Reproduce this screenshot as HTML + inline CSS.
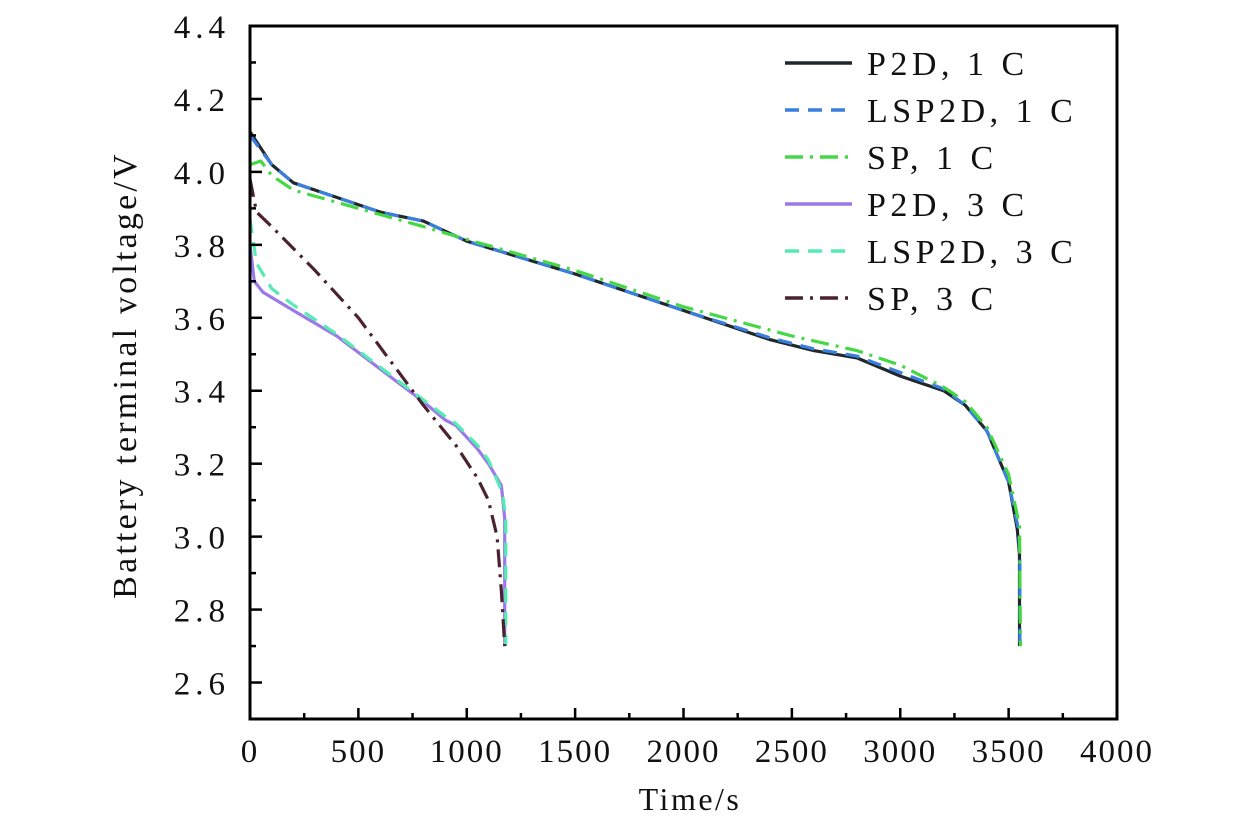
<!DOCTYPE html>
<html><head><meta charset="utf-8"><style>
body{margin:0;background:#fff}
svg text{font-family:"Liberation Serif",serif;fill:#111}
</style></head><body>
<svg id="chart" width="1260" height="827" xmlns="http://www.w3.org/2000/svg">
<g id="series"></g>
<g id="axes"></g>
<g id="legend"></g>
<text x="0" y="0" font-size="34" letter-spacing="3.2" text-anchor="middle" transform="translate(136,375) rotate(-90)">Battery terminal voltage/V</text>
<text x="690" y="810" font-size="32" letter-spacing="2.5" text-anchor="middle">Time/s</text>
</svg>
<script>
const xTicks=[0,500,1000,1500,2000,2500,3000,3500,4000];
const yTicks=[2.6,2.8,3.0,3.2,3.4,3.6,3.8,4.0,4.2,4.4];
const seriesNames=["P2D, 1 C","LSP2D, 1 C","SP, 1 C","P2D, 3 C","LSP2D, 3 C","SP, 3 C"];
const p2d1T=[0,100,200,400,600,800,1000,1500,2000,2400,2600,2800,3000,3200,3300,3400,3500,3540,3550,3550];
const p2d1V=[4.11,4.02,3.97,3.93,3.89,3.865,3.81,3.72,3.62,3.54,3.51,3.49,3.44,3.40,3.36,3.29,3.15,3.02,2.95,2.70];
const lsp1T=[0,100,200,400,600,800,1000,1500,2000,2400,2600,2800,3000,3200,3300,3400,3500,3545,3552,3552];
const lsp1V=[4.10,4.02,3.97,3.93,3.89,3.865,3.81,3.72,3.62,3.545,3.515,3.495,3.45,3.405,3.36,3.29,3.15,3.02,2.95,2.70];
const sp1T=[0,50,100,200,500,800,1000,1500,2000,2500,2800,3000,3200,3300,3400,3500,3550,3555];
const sp1V=[4.02,4.03,3.99,3.95,3.90,3.85,3.815,3.73,3.63,3.55,3.51,3.47,3.41,3.37,3.30,3.17,3.03,2.70];
const p2d3T=[0,20,60,200,400,600,800,900,950,1050,1100,1160,1175,1175];
const p2d3V=[3.80,3.70,3.67,3.62,3.55,3.46,3.37,3.32,3.305,3.24,3.20,3.14,3.05,2.70];
const lsp3T=[0,30,100,200,400,600,800,900,950,1050,1100,1165,1180,1180];
const lsp3V=[3.87,3.75,3.68,3.635,3.555,3.465,3.375,3.33,3.31,3.25,3.21,3.12,3.05,2.70];
const sp3T=[0,30,100,300,500,650,800,950,1050,1100,1140,1160,1175];
const sp3V=[3.98,3.89,3.85,3.73,3.60,3.48,3.36,3.25,3.16,3.10,3.00,2.85,2.70];
const X0=250,X1=1117,Y0=719,Y1=26;
function xs(t){return X0+(t-0)/(4000-0)*(X1-X0);}
function ys(v){return Y0-(v-2.5)/(4.4-2.5)*(Y0-Y1);}
const NS="http://www.w3.org/2000/svg";
function mk(tag,attrs,parent){const e=document.createElementNS(NS,tag);for(const k in attrs)e.setAttribute(k,attrs[k]);parent.appendChild(e);return e;}
const styles=[
 {c:"#20282c",d:"",w:3.2},
 {c:"#3a7fe0",d:"14 9",w:3.2},
 {c:"#44d844",d:"18 7 3 7",w:3.2},
 {c:"#9a7ae8",d:"",w:3.2},
 {c:"#55ecb4",d:"14 9",w:3.2},
 {c:"#4a2230",d:"18 7 3 7",w:3.2}];
const data=[[p2d1T,p2d1V],[lsp1T,lsp1V],[sp1T,sp1V],[p2d3T,p2d3V],[lsp3T,lsp3V],[sp3T,sp3V]];
const sg=document.getElementById('series');
const ids=["p2d-1c","lsp2d-1c","sp-1c","p2d-3c","lsp2d-3c","sp-3c"];
data.forEach((s,i)=>{
 const pts=s[0].map((t,j)=>xs(t).toFixed(1)+","+ys(s[1][j]).toFixed(1)).join(" ");
 const p=mk('polyline',{points:pts,fill:"none",stroke:styles[i].c,"stroke-width":styles[i].w,"stroke-dasharray":styles[i].d,"stroke-linejoin":"round"},sg);
 
 
});
const ag=document.getElementById('axes');
const fr=mk('rect',{x:X0,y:Y1,width:X1-X0,height:Y0-Y1,fill:"none",stroke:"#000","stroke-width":3},ag);


xTicks.forEach((t,i)=>{
 const x=xs(t);
 mk('line',{x1:x,y1:Y0,x2:x,y2:Y0-11,stroke:"#000","stroke-width":2.5},ag);
 if(i<xTicks.length-1){const xm=xs(t+250);mk('line',{x1:xm,y1:Y0,x2:xm,y2:Y0-6,stroke:"#000","stroke-width":2.5},ag);}
 const tx=mk('text',{x:x,y:Y0+43,"font-size":33,"letter-spacing":2,"text-anchor":"middle"},ag);
 tx.textContent=t;
 
 
});
yTicks.forEach((v,i)=>{
 const y=ys(v);
 mk('line',{x1:X0,y1:y,x2:X0+12,y2:y,stroke:"#000","stroke-width":2.5},ag);
 const ym=ys(v-0.1);mk('line',{x1:X0,y1:ym,x2:X0+6,y2:ym,stroke:"#000","stroke-width":2.5},ag);
 const tx=mk('text',{x:X0-20,y:y+12,"font-size":33,"letter-spacing":5,"text-anchor":"end"},ag);
 tx.textContent=v.toFixed(1);
 
 
});
const lg=document.getElementById('legend');
seriesNames.forEach((n,i)=>{
 const y=63+i*47;
 const l=mk('line',{x1:785,y1:y,x2:852,y2:y,stroke:styles[i].c,"stroke-width":3.5,"stroke-dasharray":styles[i].d},lg);
 
 
 const t=mk('text',{x:867,y:y+12,"font-size":34,"letter-spacing":4.5},lg);
 t.textContent=n;
 
 
});
</script>
</body></html>
